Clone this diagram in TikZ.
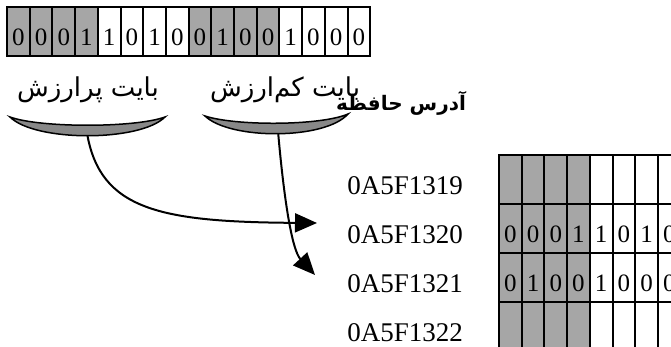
\documentclass[tikz,border=0pt]{standalone}
\usepackage{fontspec}
\setmainfont{Liberation Serif}
\newfontfamily\farsifont[Script=Arabic]{DejaVu Sans}
\TeXXeTstate=1
\usetikzlibrary{arrows.meta}
\definecolor{bitgray}{RGB}{166,166,166}
\definecolor{bracegray}{RGB}{136,136,136}

\begin{document}
\begin{tikzpicture}[
    x=0.5pt, y=-0.5pt,
    cell/.style={draw, line width=1pt, inner sep=0pt, minimum width=11.35pt, minimum height=24.5pt, text height=19.5pt, text depth=5pt, font=\fontsize{12.5}{14}\selectfont},
    bitfill/.code={\pgfmathtruncatemacro\hi{mod(#1,8)<4}\ifnum\hi=1 \tikzset{fill=bitgray}\fi},
    addr/.style={anchor=base west, inner sep=0pt, font=\fontsize{13.5}{16}\selectfont},
    fatext/.style={anchor=base, inner sep=0pt, font=\farsifont\fontsize{13}{16}\selectfont},
    brace/.style={draw, line width=0.75pt, fill=bracegray},
    arrow/.style={-{Triangle[length=11pt, width=9.5pt]}, line width=1pt},
]
\useasboundingbox (0,0) rectangle (671,347);

% === REGISTER ===
\foreach \b [count=\i from 0] in {0,0,0,1,1,0,1,0,0,1,0,0,1,0,0,0}
    \node[cell, bitfill=\i] (reg\i) at (18.35+22.7*\i, 31.5) {\b};

\node[fatext] (hilabel) at (88,97) {\beginR بایت پرارزش\endR};
\node[fatext] (lolabel) at (285,97) {\beginR بایت کم^^^^200cارزش\endR};
\node[fatext, font=\farsifont\bfseries\fontsize{10}{12}\selectfont] (memlabel) at (401,111) {\beginR آدرس حافظه\endR};

% === MEMORY ===
\node[addr] (a1319) at (347,195) {0A5F1319};
\node[addr] (a1320) at (347,244) {0A5F1320};
\node[addr] (a1321) at (347,293) {0A5F1321};
\node[addr] (a1322) at (347,342) {0A5F1322};

\begin{scope}
\clip (0,0) rectangle (671,347);
\foreach \c in {0,...,7} {
    \node[cell, bitfill=\c] (m0-\c) at (510.35+22.7*\c, 179.5) {};
    \node[cell, bitfill=\c] (m3-\c) at (510.35+22.7*\c, 326.5) {};
}
\foreach \b [count=\c from 0] in {0,0,0,1,1,0,1,0}
    \node[cell, bitfill=\c] (m1-\c) at (510.35+22.7*\c, 228.5) {\b};
\foreach \b [count=\c from 0] in {0,1,0,0,1,0,0,0}
    \node[cell, bitfill=\c] (m2-\c) at (510.35+22.7*\c, 277.5) {\b};
\end{scope}

% === ARROWS ===
\coordinate (hibyte) at (87,133);
\coordinate (lobyte) at (278,131);
\coordinate (hitip) at (317,223);
\coordinate (lotip) at (315,275);

\draw[arrow] (hibyte) .. controls (100,210) and (160,222) .. (hitip);
\draw[arrow] (lobyte) .. controls (284,200) and (292,250) .. (lotip);

\draw[brace] (10,117) .. controls (40,128) and (135,128) .. (165,117) .. controls (140,142) and (35,142) .. cycle;
\draw[brace] (205,116) .. controls (235,126) and (320,126) .. (348,114) .. controls (325,140) and (230,140) .. cycle;

\end{tikzpicture}
\end{document}
